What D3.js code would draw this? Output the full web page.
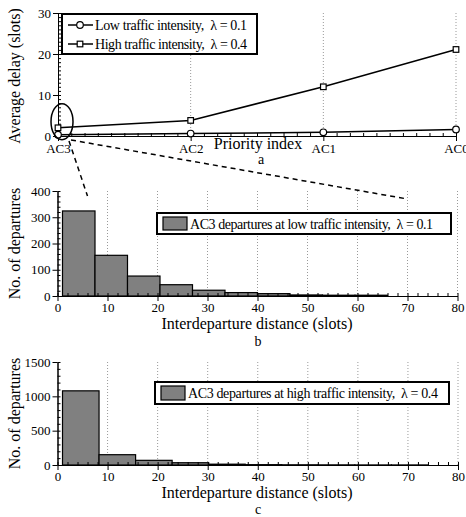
<!DOCTYPE html>
<html>
<head>
<meta charset="utf-8">
<script src="https://cdn.jsdelivr.net/npm/d3@7"></script>
<style>
  body { margin: 0; background: #fff; }
  svg { display: block; font-family: "Liberation Serif", "Times New Roman", serif; }
  .axis text { font-family: "Liberation Serif", serif; font-size: 13px; fill: #000; }
  .axis path, .axis line { stroke: #000; }
  .grid line { stroke: #999; stroke-dasharray: 1,2; }
</style>
</head>
<body>
<svg id="chart" width="466" height="517"></svg>
<script>
// パネルa: 平均遅延
var categories = ['AC3', 'AC2', 'AC1', 'AC0'];
var lowDelay = [0.3, 0.6, 0.9, 1.6];
var highDelay = [2.0, 3.8, 12.0, 21.1];
var delayTicks = [0, 10, 20, 30];

// パネルb: 低トラフィック時のヒストグラム
var edgesLow = [1, 7.5, 14, 20.5, 27, 33.5, 40, 46.5, 53, 59.5, 66];
var countsLow = [324, 155, 76, 43, 22, 13, 9, 4, 3, 3];
var ticksLow = [0, 100, 200, 300, 400];

// パネルc: 高トラフィック時のヒストグラム
var edgesHigh = [1, 8.3, 15.6, 22.9, 30.2, 37.5, 44.8, 52.1, 59.4, 66.7, 74];
var countsHigh = [1080, 150, 68, 33, 12, 5, 3, 2, 1, 1];
var ticksHigh = [0, 500, 1000, 1500];

var distTicks = [0, 10, 20, 30, 40, 50, 60, 70, 80];

var svg = d3.select('#chart');

// ---------- パネルa ----------
var xA = d3.scalePoint().domain(categories).range([58, 456]);
var yA = d3.scaleLinear().domain([0, 30]).range([136, 13]);

// 縦の点線グリッド
svg.append('g').attr('class', 'grid')
  .selectAll('line')
  .data(categories.slice(1))
  .enter()
  .append('line')
  .attr('x1', function(d) { return xA(d); })
  .attr('x2', function(d) { return xA(d); })
  .attr('y1', yA(30))
  .attr('y2', yA(0));

// 副目盛り（内向き）
var xMinorA = d3.scaleLinear().domain([0, 3]).range(xA.range());
svg.append('g').attr('class', 'axis')
  .attr('transform', 'translate(0,' + yA(0) + ')')
  .call(d3.axisBottom(xMinorA).tickValues(d3.range(0, 3.001, 0.1)).tickSize(-3).tickSizeOuter(0).tickFormat(''));
svg.append('g').attr('class', 'axis')
  .attr('transform', 'translate(' + xA('AC3') + ',0)')
  .call(d3.axisLeft(yA).tickValues(d3.range(0, 30.001, 1)).tickSize(-3).tickSizeOuter(0).tickFormat(''));

svg.append('g').attr('class', 'axis')
  .attr('transform', 'translate(0,' + yA(0) + ')')
  .call(d3.axisBottom(xA).tickSize(5).tickSizeOuter(0).tickPadding(3));
svg.append('g').attr('class', 'axis')
  .attr('transform', 'translate(' + xA('AC3') + ',0)')
  .call(d3.axisLeft(yA).tickValues(delayTicks).tickSize(5).tickSizeOuter(0).tickPadding(2).tickFormat(d3.format('d')));

var lineA = d3.line()
  .x(function(d, i) { return xA(categories[i]); })
  .y(function(d) { return yA(d); });

svg.append('path').datum(lowDelay)
  .attr('d', lineA).attr('fill', 'none').attr('stroke', '#000').attr('stroke-width', 1.5);
svg.append('path').datum(highDelay)
  .attr('d', lineA).attr('fill', 'none').attr('stroke', '#000').attr('stroke-width', 1.5);

svg.selectAll('.lowMark')
  .data(lowDelay)
  .enter()
  .append('circle')
  .attr('cx', function(d, i) { return xA(categories[i]); })
  .attr('cy', function(d) { return yA(d); })
  .attr('r', 3.3)
  .attr('fill', '#fff').attr('stroke', '#000').attr('stroke-width', 1.2);

svg.selectAll('.highMark')
  .data(highDelay)
  .enter()
  .append('rect')
  .attr('x', function(d, i) { return xA(categories[i]) - 2.8; })
  .attr('y', function(d) { return yA(d) - 2.8; })
  .attr('width', 5.6).attr('height', 5.6)
  .attr('fill', '#fff').attr('stroke', '#000').attr('stroke-width', 1.2);

// 凡例a
svg.append('rect')
  .attr('x', 62).attr('y', 14).attr('width', 195).attr('height', 40)
  .attr('fill', '#fff').attr('stroke', '#000').attr('stroke-width', 2);
var legA = [
  { label: 'Low traffic intensity,  λ = 0.1', shape: 'circle', y: 25 },
  { label: 'High traffic intensity,  λ = 0.4', shape: 'square', y: 44 }
];
legA.forEach(function(d) {
  svg.append('line').attr('x1', 68).attr('x2', 93).attr('y1', d.y).attr('y2', d.y)
    .attr('stroke', '#000').attr('stroke-width', 1.5);
  if (d.shape === 'circle') {
    svg.append('circle').attr('cx', 80).attr('cy', d.y).attr('r', 3.3)
      .attr('fill', '#fff').attr('stroke', '#000').attr('stroke-width', 1.2);
  } else {
    svg.append('rect').attr('x', 77.2).attr('y', d.y - 2.8).attr('width', 5.6).attr('height', 5.6)
      .attr('fill', '#fff').attr('stroke', '#000').attr('stroke-width', 1.2);
  }
  svg.append('text').attr('x', 95).attr('y', d.y + 4.5)
    .attr('font-size', '14px').attr('textLength', 152).attr('lengthAdjust', 'spacing')
    .style('white-space', 'pre').text(d.label);
});

svg.append('text')
  .attr('transform', 'translate(20,' + 76 + ') rotate(-90)')
  .attr('text-anchor', 'middle').attr('font-size', '16px')
  .text('Average delay (slots)');
svg.append('text').attr('x', 258).attr('y', 149)
  .attr('text-anchor', 'middle').attr('font-size', '16px').text('Priority index');
svg.append('text').attr('x', 261).attr('y', 164)
  .attr('text-anchor', 'middle').attr('font-size', '14px').text('a');

// ---------- ヒストグラム描画 ----------
function drawHist(cfg) {
  var x = d3.scaleLinear().domain([0, 80]).range(cfg.xRange);
  var y = d3.scaleLinear().domain([0, cfg.yMax]).range(cfg.yRange);

  svg.append('g').attr('class', 'grid')
    .selectAll('line')
    .data(distTicks.slice(1))
    .enter()
    .append('line')
    .attr('x1', function(d) { return x(d); })
    .attr('x2', function(d) { return x(d); })
    .attr('y1', y(cfg.yMax))
    .attr('y2', y(0));

  var bins = cfg.counts.map(function(c, i) {
    return { x0: cfg.edges[i], x1: cfg.edges[i + 1], n: c };
  });
  svg.append('g')
    .selectAll('rect')
    .data(bins)
    .enter()
    .append('rect')
    .attr('x', function(d) { return x(d.x0); })
    .attr('y', function(d) { return y(d.n); })
    .attr('width', function(d) { return x(d.x1) - x(d.x0); })
    .attr('height', function(d) { return y(0) - y(d.n); })
    .attr('fill', '#808080').attr('stroke', '#000').attr('stroke-width', 1.2);

  svg.append('g').attr('class', 'axis')
    .attr('transform', 'translate(0,' + y(0) + ')')
    .call(d3.axisBottom(x).tickValues(d3.range(0, 80.001, 2)).tickSize(-3).tickSizeOuter(0).tickFormat(''));
  svg.append('g').attr('class', 'axis')
    .attr('transform', 'translate(' + x(0) + ',0)')
    .call(d3.axisLeft(y).tickValues(d3.range(0, cfg.yMax + 0.001, cfg.yMinor)).tickSize(-3).tickSizeOuter(0).tickFormat(''));

  svg.append('g').attr('class', 'axis')
    .attr('transform', 'translate(0,' + y(0) + ')')
    .call(d3.axisBottom(x).tickValues(distTicks).tickSize(5).tickSizeOuter(0).tickPadding(2).tickFormat(d3.format('d')));
  svg.append('g').attr('class', 'axis')
    .attr('transform', 'translate(' + x(0) + ',0)')
    .call(d3.axisLeft(y).tickValues(cfg.yTicks).tickSize(5).tickSizeOuter(0).tickPadding(2).tickFormat(d3.format('d')));

  // 凡例
  var lg = cfg.legend;
  svg.append('rect')
    .attr('x', lg.x).attr('y', lg.y).attr('width', lg.w).attr('height', lg.h)
    .attr('fill', '#fff').attr('stroke', '#000').attr('stroke-width', 2);
  svg.append('rect')
    .attr('x', lg.x + 6).attr('y', lg.y + 4).attr('width', 24).attr('height', lg.h - 8)
    .attr('fill', '#808080').attr('stroke', '#000').attr('stroke-width', 1.2);
  svg.append('text')
    .attr('x', lg.x + 33).attr('y', lg.y + lg.h / 2 + 5)
    .attr('font-size', '14px').attr('textLength', lg.tl).attr('lengthAdjust', 'spacing')
    .style('white-space', 'pre').text(lg.label);

  svg.append('text')
    .attr('transform', 'translate(20,' + ((y(0) + y(cfg.yMax)) / 2) + ') rotate(-90)')
    .attr('text-anchor', 'middle').attr('font-size', '16px')
    .text('No. of departures');
  svg.append('text').attr('x', 257).attr('y', cfg.labelY)
    .attr('text-anchor', 'middle').attr('font-size', '16px').text('Interdeparture distance (slots)');
  svg.append('text').attr('x', 258).attr('y', cfg.letterY)
    .attr('text-anchor', 'middle').attr('font-size', '14px').text(cfg.letter);
  return { x: x, y: y };
}

var pb = drawHist({
  edges: edgesLow, counts: countsLow, yMax: 400, yTicks: ticksLow, yMinor: 20,
  xRange: [57.5, 457.5], yRange: [296, 191],
  legend: { x: 157, y: 213, w: 294, h: 21, tl: 243, label: 'AC3 departures at low traffic intensity,  λ = 0.1' },
  labelY: 329, letterY: 346, letter: 'b'
});

drawHist({
  edges: edgesHigh, counts: countsHigh, yMax: 1500, yTicks: ticksHigh, yMinor: 100,
  xRange: [57.5, 458], yRange: [465, 362],
  legend: { x: 155, y: 382, w: 294, h: 22, tl: 250, label: 'AC3 departures at high traffic intensity,  λ = 0.4' },
  labelY: 498, letterY: 514, letter: 'c'
});

// ズーム注記（AC3の楕円と破線）
var cx = xA('AC3') + 4, cy = yA(3.5);
svg.append('ellipse')
  .attr('cx', cx).attr('cy', cy).attr('rx', 11).attr('ry', 18)
  .attr('fill', 'none').attr('stroke', '#000').attr('stroke-width', 1.5);
svg.append('line')
  .attr('x1', cx + 7).attr('y1', yA(0) + 5).attr('x2', pb.x(6)).attr('y2', pb.y(400) + 5)
  .attr('stroke', '#000').attr('stroke-width', 1.5).attr('stroke-dasharray', '5,4');
svg.append('line')
  .attr('x1', cx + 9).attr('y1', yA(0) + 4).attr('x2', pb.x(70)).attr('y2', pb.y(400) + 8)
  .attr('stroke', '#000').attr('stroke-width', 1.5).attr('stroke-dasharray', '5,4');
</script>
</body>
</html>
